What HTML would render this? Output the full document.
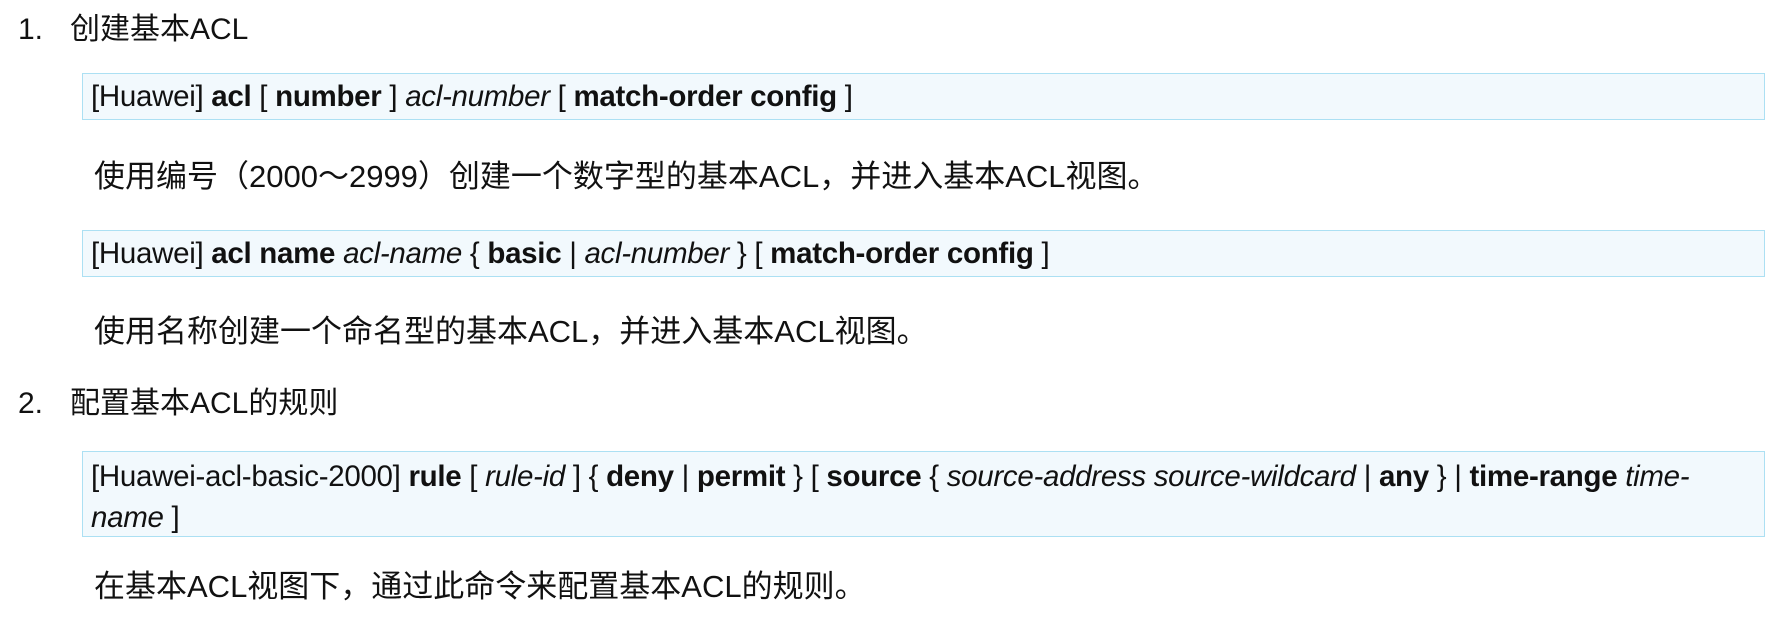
<!DOCTYPE html>
<html><head><meta charset="utf-8"><style>
html,body{margin:0;padding:0;background:#fff;}
body{width:1776px;height:619px;position:relative;overflow:hidden;font-family:"Liberation Sans","Noto Sans CJK SC",sans-serif;color:#111;}
.a{position:absolute;white-space:nowrap;line-height:1;}
.h{font-size:30px;}
.p{font-size:31px;left:94px;}
.box{position:absolute;left:82px;right:11px;background:#f2f9fd;border:1.5px solid #ace0f3;box-sizing:border-box;}
.box .t{position:absolute;left:8px;font-size:29.5px;white-space:nowrap;line-height:1;letter-spacing:-0.3px;}
b{font-weight:bold;}
</style></head><body>
<div class="a h" style="left:18px;top:15px;">1.</div>
<div class="a h" style="left:70px;top:15px;">创建基本ACL</div>
<div class="box" style="top:73px;height:47px;"><div class="t" style="top:8px;">[Huawei] <b>acl</b> [ <b>number</b> ] <i>acl-number</i> [ <b>match-order config</b> ]</div></div>
<div class="a p" style="top:161px;">使用编号（2000～2999）创建一个数字型的基本ACL，并进入基本ACL视图。</div>
<div class="box" style="top:230px;height:47px;"><div class="t" style="top:8px;">[Huawei] <b>acl name</b> <i>acl-name</i> { <b>basic</b> | <i>acl-number</i> } [ <b>match-order config</b> ]</div></div>
<div class="a p" style="top:316px;">使用名称创建一个命名型的基本ACL，并进入基本ACL视图。</div>
<div class="a h" style="left:18px;top:389px;">2.</div>
<div class="a h" style="left:70px;top:389px;">配置基本ACL的规则</div>
<div class="box" style="top:451px;height:86px;">
<div class="t" style="top:10px;">[Huawei-acl-basic-2000] <b>rule</b> [ <i>rule-id</i> ] { <b>deny</b> | <b>permit</b> } [ <b>source</b> { <i>source-address source-wildcard</i> | <b>any</b> } | <b>time-range</b> <i>time-</i></div>
<div class="t" style="top:51px;"><i>name</i> ]</div>
</div>
<div class="a p" style="top:571px;">在基本ACL视图下，通过此命令来配置基本ACL的规则。</div>
</body></html>
